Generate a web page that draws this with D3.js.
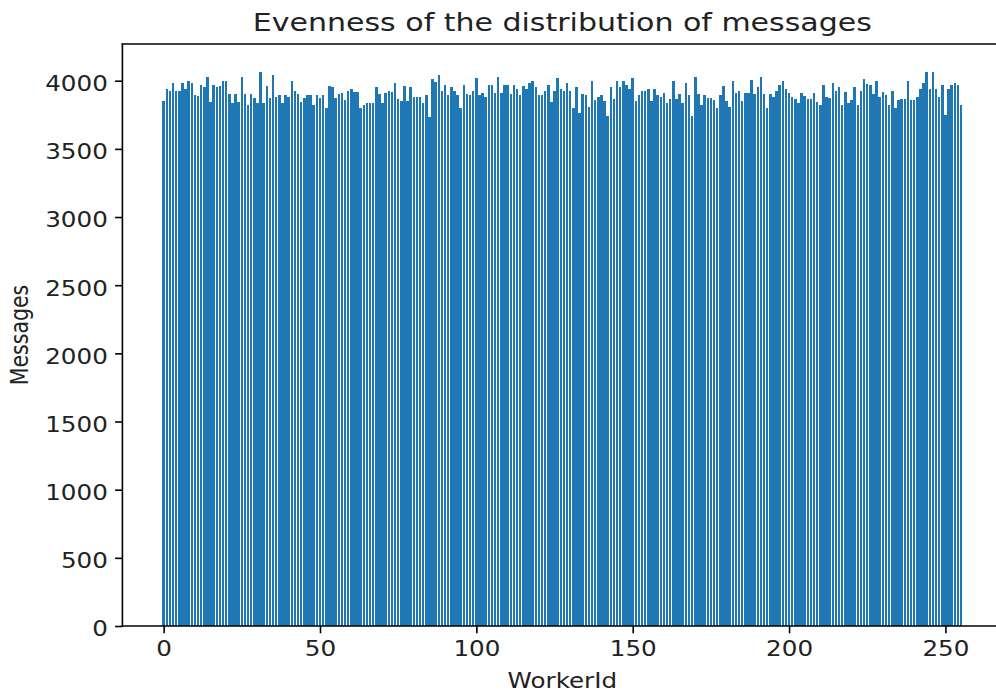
<!DOCTYPE html>
<html>
<head>
<meta charset="utf-8">
<script src="https://cdn.jsdelivr.net/npm/d3@7"></script>
<style>
  html, body { margin: 0; padding: 0; background: #ffffff; }
  svg { display: block; font-family: "DejaVu Sans", sans-serif; }
</style>
</head>
<body>
<svg id="chart" width="996" height="693"></svg>
<script>
// Messages handled by each worker (WorkerId 0..255)
const messages = [
  3849, 3937, 3927, 3985, 3927, 3927, 3985, 3941, 3995, 3985, 3892, 3887, 3971, 3951, 4029, 3844,
  3971, 3951, 3961, 3995, 3995, 3902, 3834, 3902, 3844, 4029, 3902, 3824, 3902, 3873, 3839, 4066,
  3834, 3961, 3873, 4044, 3883, 3892, 3834, 3892, 3883, 3995, 3922, 3905, 3844, 3870, 3892, 3892,
  3824, 3892, 3873, 3892, 3800, 3961, 3951, 3873, 3902, 3912, 3858, 3927, 3937, 3920,
  3917, 3800, 3824, 3834, 3834, 3834, 3951, 3902, 3834, 3912, 3922, 3917, 3985, 3868, 3849, 3961,
  3849, 3951, 3883, 3883, 3883, 3834, 3892, 3731, 4010, 3990, 4044, 3927, 3971, 3892,
  3951, 3927, 3892, 3800, 3971, 3902, 3892, 3927, 4020, 3892, 3912, 3883, 3971, 3971, 3912, 4029,
  3910, 3971, 3971, 3902, 3971, 3937, 3892, 3961, 3940, 3985, 3995, 3951, 3892, 3892,
  3927, 3971, 3844, 3927, 4020, 3937, 3927, 3985, 3927, 3800, 3951, 3765, 3902, 3892, 3810, 3995,
  3858, 3883, 3892, 3849, 3741, 3951, 3868, 3995, 3951, 3995, 3971, 3940, 4020, 3849, 3892, 3927,
  3927, 3937, 3849, 3937, 3892, 3883, 3912, 3834, 3868, 3995, 3868, 3902, 3834, 3985, 3892, 3741,
  4029, 3902, 3824, 3892, 3873, 3873, 3858, 3800, 3892, 3961, 3849, 3810, 3995, 3912, 3927,
  3853, 3912, 3912, 4005, 3902, 3951, 4029, 3902, 3800, 3902, 3883, 3922, 3971, 3995, 3937, 3912,
  3880, 3868, 3834, 3912, 3890, 3868, 3868, 3912, 3844, 3824, 3971, 3883, 3873, 3985, 3922,
  3951, 3824, 3917, 3834, 3858, 3951, 3824, 3927, 4010, 3976, 3966, 3900, 3995, 3883, 3917, 3892,
  3820, 3927, 3800, 3858, 3868, 3868, 3995, 3858, 3858, 3883, 3937, 3985, 4064, 3937, 4064, 3937,
  3883, 3971, 3751, 3937, 3971, 3985, 3971, 3824
];
const workerIds = messages.map((_, i) => i);
const xTickValues = [0, 50, 100, 150, 200, 250];
const yTickValues = [0, 500, 1000, 1500, 2000, 2500, 3000, 3500, 4000];

const titleText = "Evenness of the distribution of messages";
const xLabelText = "WorkerId";
const yLabelText = "Messages";

// Axes box (the right edge lies just past the visible area)
const plot = { left: 122.4, right: 1002.3, top: 44, bottom: 626 };
const barColor = "#1f77b4";
const barWidth = 0.8;
const tickLen = 7.3;
const tickPad = 7.3;
const fontSize = 20.5;
const textStretch = 1.2;   // glyphs are drawn wider than tall
const lineW = 1.6;

const svg = d3.select("#chart");

// x: bar centres at integer ids, 5% margin around the bar extent
const xMin = workerIds[0] - barWidth / 2;
const xMax = workerIds[workerIds.length - 1] + barWidth / 2;
const xMargin = 0.05 * (xMax - xMin);
const x = d3.scaleLinear()
  .domain([xMin - xMargin, xMax + xMargin])
  .range([plot.left, plot.right]);

// y: zero based, 5% headroom above the tallest bar
const y = d3.scaleLinear()
  .domain([0, d3.max(messages) * 1.05])
  .range([plot.bottom, plot.top]);

// Bars
svg.append("g")
  .attr("shape-rendering", "crispEdges")
  .selectAll("rect")
  .data(messages)
  .join("rect")
  .attr("x", (d, i) => x(workerIds[i] - barWidth / 2))
  .attr("width", (d, i) => x(workerIds[i] + barWidth / 2) - x(workerIds[i] - barWidth / 2))
  .attr("y", d => y(d))
  .attr("height", d => y(0) - y(d))
  .attr("fill", barColor);

// Axes
const xAxis = d3.axisBottom(x)
  .tickValues(xTickValues)
  .tickSize(tickLen)
  .tickPadding(tickPad)
  .tickSizeOuter(0)
  .tickFormat(d3.format("d"));
const yAxis = d3.axisLeft(y)
  .tickValues(yTickValues)
  .tickSize(tickLen)
  .tickPadding(tickPad)
  .tickSizeOuter(0)
  .tickFormat(d3.format("d"));

const gx = svg.append("g")
  .attr("transform", `translate(0,${plot.bottom})`)
  .call(xAxis);
const gy = svg.append("g")
  .attr("transform", `translate(${plot.left},0)`)
  .call(yAxis);

[gx, gy].forEach(g => {
  g.select(".domain").remove();
  g.selectAll(".tick line").attr("stroke", "#000").attr("stroke-width", lineW);
  g.selectAll(".tick text")
    .attr("fill", "#222")
    .attr("dy", null)
    .style("font-family", "'DejaVu Sans', sans-serif")
    .style("font-size", fontSize + "px");
});
// Tick labels: placed by transform so they can be widened about their anchor
gx.selectAll(".tick text")
  .attr("y", null)
  .attr("transform", `translate(0,${tickLen + tickPad + fontSize * 0.76}) scale(${textStretch},1)`);
gy.selectAll(".tick text")
  .attr("x", null)
  .attr("transform", `translate(${-(tickLen + tickPad)},${fontSize * 0.36 + 2.5}) scale(${textStretch},1)`);

// Spines
const spines = svg.append("g")
  .attr("fill", "none")
  .attr("stroke", "#000")
  .attr("stroke-width", lineW)
  .attr("stroke-linecap", "square");
spines.append("line").attr("x1", plot.left).attr("x2", plot.right).attr("y1", plot.bottom).attr("y2", plot.bottom);
spines.append("line").attr("x1", plot.left).attr("x2", plot.right).attr("y1", plot.top).attr("y2", plot.top);
spines.append("line").attr("x1", plot.left).attr("x2", plot.left).attr("y1", plot.top).attr("y2", plot.bottom);
spines.append("line").attr("x1", plot.right).attr("x2", plot.right).attr("y1", plot.top).attr("y2", plot.bottom);

// Title and axis labels
const cx = (plot.left + plot.right) / 2;
svg.append("text")
  .attr("transform", `translate(${cx},31) scale(${textStretch},1)`)
  .attr("text-anchor", "middle")
  .attr("fill", "#222")
  .style("font-size", "25px")
  .text(titleText);

svg.append("text")
  .attr("transform", `translate(${cx},688) scale(${textStretch},1)`)
  .attr("text-anchor", "middle")
  .attr("fill", "#222")
  .style("font-size", fontSize + "px")
  .text(xLabelText);

svg.append("text")
  .attr("transform", `translate(28,${(plot.top + plot.bottom) / 2}) scale(${textStretch},1) rotate(-90)`)
  .attr("text-anchor", "middle")
  .attr("fill", "#222")
  .style("font-size", fontSize + "px")
  .text(yLabelText);
</script>
</body>
</html>
